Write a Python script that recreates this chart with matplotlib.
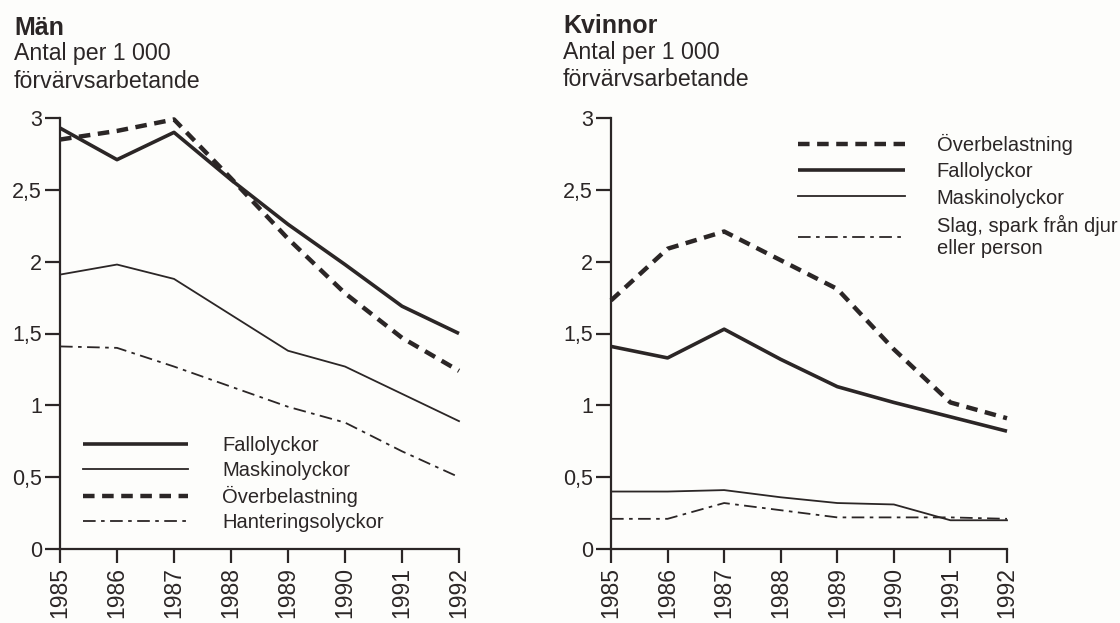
import matplotlib
matplotlib.use("Agg")
import matplotlib.pyplot as plt
from matplotlib.lines import Line2D

years = [1985, 1986, 1987, 1988, 1989, 1990, 1991, 1992]
year_labels = [str(y) for y in years]
y_ticks = [0, 0.5, 1, 1.5, 2, 2.5, 3]
y_ticklabels = ["0", "0,5", "1", "1,5", "2", "2,5", "3"]

# Män
men_fall = [2.93, 2.71, 2.90, 2.57, 2.26, 1.98, 1.69, 1.50]
men_maskin = [1.91, 1.98, 1.88, 1.63, 1.38, 1.27, 1.08, 0.89]
men_overbel = [2.85, 2.91, 2.99, 2.58, 2.16, 1.78, 1.47, 1.24]
men_hanter = [1.41, 1.40, 1.27, 1.13, 0.99, 0.88, 0.68, 0.50]

# Kvinnor
wom_overbel = [1.73, 2.09, 2.21, 2.01, 1.81, 1.39, 1.02, 0.91]
wom_fall = [1.41, 1.33, 1.53, 1.32, 1.13, 1.02, 0.92, 0.82]
wom_maskin = [0.40, 0.40, 0.41, 0.36, 0.32, 0.31, 0.20, 0.20]
wom_slag = [0.21, 0.21, 0.32, 0.27, 0.22, 0.22, 0.22, 0.21]

C = "#2b2626"
plt.rcParams["font.family"] = ["Liberation Sans", "DejaVu Sans"]

fig = plt.figure(figsize=(11.2, 6.23), dpi=100)
fig.patch.set_facecolor("#fdfdfb")

W, H = 1120, 623
def axes_rect(x0, x1, y0, y1):
    return [x0 / W, 1 - y0 / H, (x1 - x0) / W, (y0 - y1) / H]

axL = fig.add_axes(axes_rect(60, 459, 549, 118))
axR = fig.add_axes(axes_rect(611, 1007, 549, 118))

styles = {
    "fall": dict(color=C, lw=2.6, solid_capstyle="butt"),
    "maskin": dict(color=C, lw=1.3),
    "overbel": dict(color=C, lw=3.2, linestyle=(0, (2.6, 1.7))),
    "dashdot": dict(color=C, lw=1.3, linestyle=(0, (7, 3, 2, 3))),
}

def style_axes(ax):
    ax.set_facecolor("none")
    ax.set_xlim(years[0], years[-1])
    ax.set_ylim(0, 3)
    for s in ["top", "right"]:
        ax.spines[s].set_visible(False)
    for s in ["left", "bottom"]:
        ax.spines[s].set_color(C)
        ax.spines[s].set_linewidth(1.6)
    ax.set_xticks(years)
    ax.set_xticklabels(year_labels, rotation=90, fontsize=16.5, color=C)
    ax.set_yticks(y_ticks)
    ax.set_yticklabels(y_ticklabels, fontsize=15.5, color=C)
    ax.tick_params(axis="y", direction="out", length=11, width=1.6, color=C, pad=2)
    ax.tick_params(axis="x", direction="out", length=10, width=1.6, color=C, pad=3)

# Left panel
axL.plot(years, men_hanter, **styles["dashdot"], clip_on=False)
axL.plot(years, men_maskin, **styles["maskin"], clip_on=False)
axL.plot(years, men_overbel, **styles["overbel"], clip_on=False)
axL.plot(years, men_fall, **styles["fall"], clip_on=False)
style_axes(axL)

hL = [Line2D([], [], **styles["fall"]),
      Line2D([], [], **styles["maskin"]),
      Line2D([], [], **styles["overbel"]),
      Line2D([], [], **styles["dashdot"])]
axL.legend(hL, ["Fallolyckor", "Maskinolyckor", "Överbelastning", "Hanteringsolyckor"],
           loc="upper left", bbox_to_anchor=(0.058, 0.262), frameon=False,
           fontsize=14.5, handlelength=5.2, handletextpad=1.7, labelspacing=0.3,
           borderpad=0, borderaxespad=0, labelcolor=C)

# Right panel
axR.plot(years, wom_slag, **styles["dashdot"], clip_on=False)
axR.plot(years, wom_maskin, **styles["maskin"], clip_on=False)
axR.plot(years, wom_fall, **styles["fall"], clip_on=False)
axR.plot(years, wom_overbel, **styles["overbel"], clip_on=False)
style_axes(axR)

hR = [Line2D([], [], **styles["overbel"]),
      Line2D([], [], **styles["fall"]),
      Line2D([], [], **styles["maskin"]),
      Line2D([], [], **styles["dashdot"])]
axR.legend(hR, ["Överbelastning", "Fallolyckor", "Maskinolyckor", "Slag, spark från djur\neller person"],
           loc="upper left", bbox_to_anchor=(0.472, 0.963), frameon=False,
           fontsize=14.5, handlelength=5.3, handletextpad=1.6, labelspacing=0.36,
           borderpad=0, borderaxespad=0, labelcolor=C)

# Titles
fig.text(14 / W, 1 - 35 / H, "Män", fontsize=18, fontweight="bold", color=C, va="baseline")
fig.text(14 / W, 1 - 60 / H, "Antal per 1 000", fontsize=16.7, color=C, va="baseline")
fig.text(14 / W, 1 - 88 / H, "förvärvsarbetande", fontsize=16.7, color=C, va="baseline")

fig.text(563 / W, 1 - 33 / H, "Kvinnor", fontsize=18, fontweight="bold", color=C, va="baseline")
fig.text(563 / W, 1 - 59 / H, "Antal per 1 000", fontsize=16.7, color=C, va="baseline")
fig.text(563 / W, 1 - 86 / H, "förvärvsarbetande", fontsize=16.7, color=C, va="baseline")

fig.savefig("out.png", dpi=100, facecolor=fig.get_facecolor())
